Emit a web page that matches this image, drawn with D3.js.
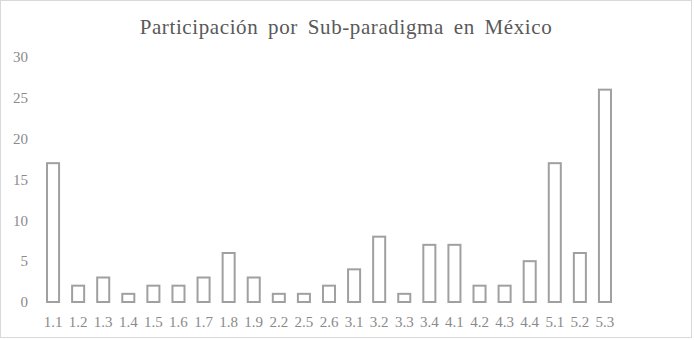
<!DOCTYPE html>
<html lang="es">
<head>
  <meta charset="UTF-8" />
  <title>Participación por Sub-paradigma en México</title>
  <script src="https://d3js.org/d3.v7.min.js"></script>
  <style>
    body {
      margin: 0;
      padding: 0;
      background: #fff;
    }
    svg {
      display: block;
    }
    .title {
      font-family: "Liberation Serif", "Times New Roman", serif;
      font-size: 21px;
      fill: #595959;
      text-anchor: middle;
      letter-spacing: 0.6px;
      word-spacing: 4px;
    }
    .tick text {
      font-family: "Liberation Serif", "Times New Roman", serif;
      font-size: 15px;
      fill: #8a8a8a;
    }
    .bar {
      fill: #fff;
      stroke: #a0a0a0;
      stroke-width: 2px;
    }
  </style>
</head>
<body>
  <svg width="694" height="340"></svg>
  <script>
    const categories = ["1.1", "1.2", "1.3", "1.4", "1.5", "1.6", "1.7", "1.8", "1.9", "2.2", "2.5", "2.6",
      "3.1", "3.2", "3.3", "3.4", "4.1", "4.2", "4.3", "4.4", "5.1", "5.2", "5.3"];
    const values = [17, 2, 3, 1, 2, 2, 3, 6, 3, 1, 1, 2, 4, 8, 1, 7, 7, 2, 2, 5, 17, 6, 26];
    const yTicks = [0, 5, 10, 15, 20, 25, 30];

    const svg = d3.select("svg");
    const width = 694, height = 340;

    // outer frame
    svg.append("rect")
      .attr("x", 0.5).attr("y", 0.5)
      .attr("width", width - 3).attr("height", height - 3)
      .attr("fill", "#fff")
      .attr("stroke", "#d9d9d9")
      .attr("stroke-width", 1);

    svg.append("text")
      .attr("class", "title")
      .attr("x", 346)
      .attr("y", 34)
      .text("Participación por Sub-paradigma en México");

    const x = d3.scaleBand()
      .domain(categories)
      .range([40.5, 617.5])
      .paddingInner(0.52)
      .paddingOuter(0.26);

    const y = d3.scaleLinear()
      .domain([0, 30])
      .range([302, 57]);

    const yAxis = svg.append("g")
      .attr("transform", "translate(30,0)")
      .attr("font-family", null)
      .call(d3.axisLeft(y).tickValues(yTicks).tickSize(0).tickPadding(2));
    yAxis.attr("font-family", null).attr("font-size", null);
    yAxis.select(".domain").remove();

    const xAxis = svg.append("g")
      .attr("transform", "translate(0,302)")
      .call(d3.axisBottom(x).tickSize(0).tickPadding(14));
    xAxis.attr("font-family", null).attr("font-size", null);
    xAxis.select(".domain").remove();

    svg.append("g")
      .selectAll("rect")
      .data(values)
      .join("rect")
      .attr("class", "bar")
      .attr("x", (d, i) => x(categories[i]))
      .attr("y", d => y(d))
      .attr("width", x.bandwidth())
      .attr("height", d => y(0) - y(d));
  </script>
</body>
</html>
